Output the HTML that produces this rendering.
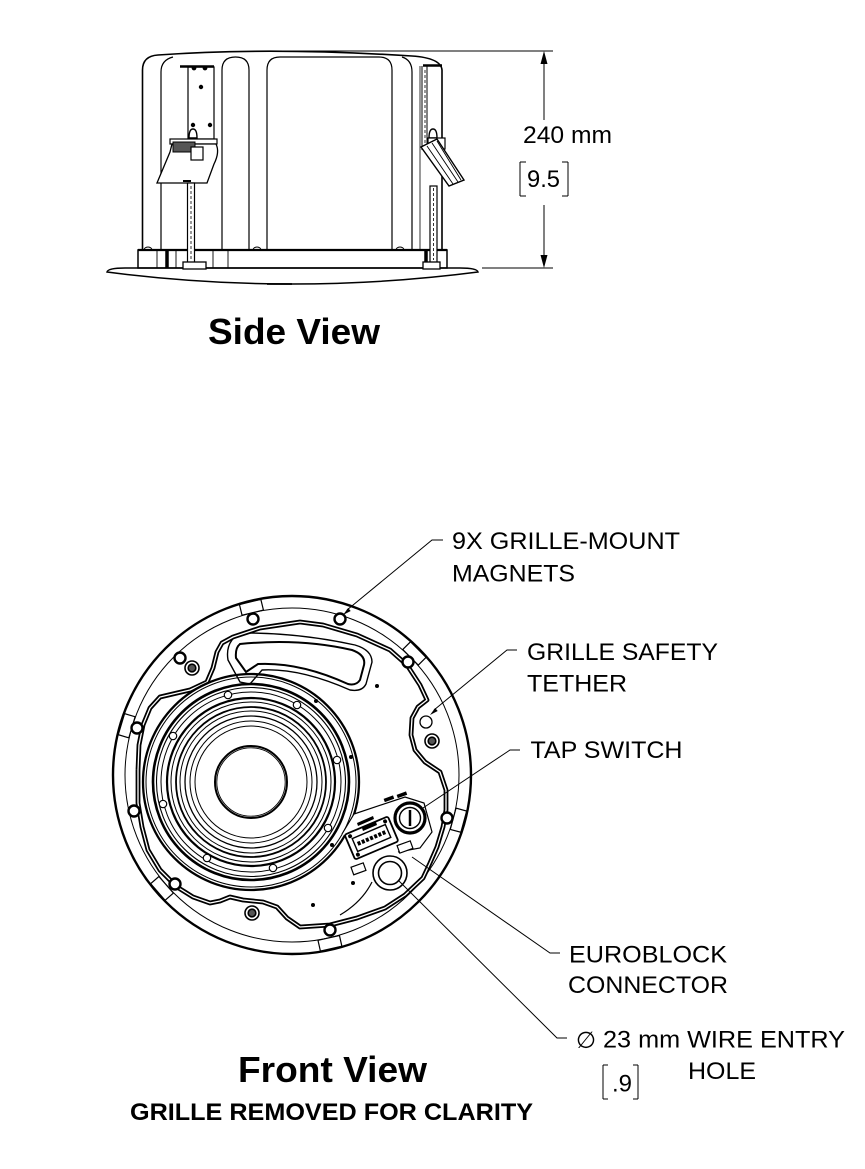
<!DOCTYPE html>
<html>
<head>
<meta charset="utf-8">
<style>
  html,body{margin:0;padding:0;background:#fff;}
  svg{display:block;}
  text{font-family:"Liberation Sans",Arial,sans-serif;fill:#000;}
  .lbl{font-size:24.5px;}
  .ttl{font-size:36.5px;font-weight:bold;}
</style>
</head>
<body>
<svg width="865" height="1169" viewBox="0 0 865 1169" xmlns="http://www.w3.org/2000/svg">
<rect x="0" y="0" width="865" height="1169" fill="#fff"/>

<!-- ================= SIDE VIEW ================= -->
<g fill="none" stroke="#000" stroke-width="1.2">
  <path d="M255,51 H553" stroke-width="1"/>
  <path d="M482,268 H553" stroke-width="1"/>
  <path d="M142.5,250 V70 Q142.5,56 158,55 Q270,47 412,56 Q441,58 442,70 V250" stroke-width="1.6"/>
  <path d="M161,250 V72 Q161,60 173,57"/>
  <path d="M222,250 V70 Q222,57 235.5,57 Q249,57 249,70 V250"/>
  <path d="M267,250 V70 Q267,57 280,57 H379 Q392,57 392,70 V250"/>
  <path d="M412,250 V72 Q412,60 402,57"/>
  <path d="M420,250 V66" stroke-width="0.8"/>
  <path d="M138,250 H447" stroke-width="2.2"/>
  <rect x="138" y="250" width="309" height="18" stroke-width="1.5"/>
  <path d="M157,250 V268 M176,250 V268 M213,250 V268 M228,250 V268 M437,250 V268" stroke-width="0.9"/>
  <path d="M167,250 V268" stroke-width="3.5"/>
  <path d="M426,250 V268" stroke-width="3.5"/>
  <path d="M144,250 a4,3 0 0 1 8,0 M253,250 a4,3 0 0 1 8,0 M396,250 a4,3 0 0 1 8,0" stroke-width="1"/>
  <path d="M107,272 Q108,268 125,268 H460 Q477,268 478,272 Q292,296 107,272 Z" stroke-width="1.5"/>
  <path d="M267,284 H292" stroke-width="1.8"/>

  <!-- left bracket -->
  <path d="M180,66.5 H214" stroke-width="2.5"/>
  <rect x="188" y="67" width="26" height="72"/>
  <circle cx="201" cy="87" r="1.6" fill="#000"/>
  <circle cx="193" cy="125" r="1.6" fill="#000"/>
  <circle cx="210" cy="125" r="1.6" fill="#000"/>
  <circle cx="194" cy="68" r="1.8" fill="#000"/>
  <circle cx="205" cy="68" r="1.8" fill="#000"/>
  <path d="M189,138 Q189,129 193,129 Q197,129 197,138 Z" fill="#fff" stroke-width="1.4"/>
  <rect x="170" y="139" width="47" height="5" fill="#fff"/>
  <path d="M172,144 H216 Q220,152 214,164 L207,183 H157 L170,152 Z" fill="#fff" stroke-width="1.3"/>
  <rect x="173" y="142" width="22" height="10" fill="#555" stroke-width="1"/>
  <rect x="191" y="147" width="12" height="13" fill="#fff"/>
  <path d="M183,181 H191" stroke-width="2"/>
  <rect x="187.5" y="183" width="7" height="80" fill="#fff"/>
  <path d="M191,186 V260" stroke-width="0.8" stroke-dasharray="3,2"/>
  <rect x="183" y="262" width="23" height="7" fill="#fff" stroke-width="1.3"/>

  <!-- right bracket -->
  <path d="M423,65.5 H442" stroke-width="2.5"/>
  <path d="M422,66 V150 M427,66 V150" stroke-width="1"/>
  <path d="M425,70 V148" stroke-width="0.8" stroke-dasharray="3,2"/>
  <path d="M429,138 Q429,129 433,129 Q437,129 437,138 Z" fill="#fff" stroke-width="1.4"/>
  <rect x="428" y="138" width="17" height="11" fill="#fff"/>
  <path d="M421,147 L437,139 L464,180 L449,186 Z" fill="#fff" stroke-width="1.4"/>
  <path d="M427,146 L453,184 M432,143 L458,182 M437,141 L461,180" stroke-width="0.9"/>
  <rect x="430" y="186" width="7" height="77" fill="#fff"/>
  <path d="M433.5,188 V260" stroke-width="0.8" stroke-dasharray="3,2"/>
  <rect x="423" y="262" width="17" height="7" fill="#fff" stroke-width="1.3"/>

  <!-- dimension -->
  <path d="M544,62 V120 M544,205 V257" stroke-width="1"/>
  <path d="M520,162 H526 M520,162 V196 M520,196 H526" stroke-width="1"/>
  <path d="M568,162 H562 M568,162 V196 M568,196 H562" stroke-width="1"/>
</g>
<polygon points="544,51 540.5,64 547.5,64" fill="#000"/>
<polygon points="544,268 540.5,255 547.5,255" fill="#000"/>

<text class="lbl" x="523" y="143" textLength="89" lengthAdjust="spacingAndGlyphs">240 mm</text>
<text class="lbl" x="527" y="187" textLength="33" lengthAdjust="spacingAndGlyphs">9.5</text>
<text class="ttl" x="208" y="344" textLength="172" lengthAdjust="spacingAndGlyphs">Side View</text>

<!-- ================= FRONT VIEW ================= -->
<g fill="none" stroke="#000">
  <circle cx="292" cy="775" r="167" stroke-width="1"/>
  <g transform="translate(292,775)" stroke-width="1.2" fill="#fff">
    <rect x="167" y="-11" width="11" height="22" transform="rotate(-103.6)"/>
    <rect x="167" y="-11" width="11" height="22" transform="rotate(-44.8)"/>
    <rect x="167" y="-11" width="11" height="22" transform="rotate(-163.4)"/>
    <rect x="167" y="-11" width="11" height="22" transform="rotate(15.2)"/>
    <rect x="167" y="-11" width="11" height="22" transform="rotate(138.9)"/>
    <rect x="167" y="-11" width="11" height="22" transform="rotate(77.3)"/>
  </g>
  <circle cx="292" cy="775" r="179" stroke-width="2.4"/>

  <!-- handle slot -->
  <path d="M232,640 Q236,633 246,633 Q300,633 355,645 Q372,650 372,662 L366,684 Q362,692 350,690 Q300,668 262,670 L250,684 L240,682 L228,660 Q226,648 232,640 Z" stroke-width="1.4"/>
  <path d="M240,644 Q300,638 352,650 Q366,655 364,665 L360,680 Q356,686 348,684 Q300,662 258,664 L246,672 L236,658 Q235,648 240,644 Z" stroke-width="2"/>

  <!-- wire loop (double line) -->
  <polyline points="138,770 139,745 143,725 150,708 160,697 177,693 190,690 207,682 213,668 217,652 222,643 233,637 260,628 300,622 323,625 357,635 390,650 407,665 420,685 427,700 418,707 412,718 411,735 415,750 425,762 440,772 446,790 446,810 443,827 437,847 430,863 423,878 405,895 385,908 357,918 330,925 300,927 287,918 277,907 263,902 243,900 230,897 220,901 210,903 193,897 177,887 160,870 148,850 142,827 138,803 138,770" stroke-width="4.8" stroke-linejoin="round"/>
  <polyline points="138,770 139,745 143,725 150,708 160,697 177,693 190,690 207,682 213,668 217,652 222,643 233,637 260,628 300,622 323,625 357,635 390,650 407,665 420,685 427,700 418,707 412,718 411,735 415,750 425,762 440,772 446,790 446,810 443,827 437,847 430,863 423,878 405,895 385,908 357,918 330,925 300,927 287,918 277,907 263,902 243,900 230,897 220,901 210,903 193,897 177,887 160,870 148,850 142,827 138,803 138,770" stroke="#fff" stroke-width="1.3" stroke-linejoin="round"/>

  <!-- speaker -->
  <g transform="translate(251,782)">
    <circle r="108" stroke-width="2.3"/>
    <circle r="105" stroke-width="1"/>
    <circle r="98" stroke-width="2.6"/>
    <circle r="94.5" stroke-width="1.1"/>
    <circle r="90" stroke-width="1"/>
    <circle r="84" stroke-width="2.2"/>
    <circle r="80" stroke-width="1"/>
    <circle r="75" stroke-width="1.8"/>
    <circle r="71" stroke-width="1"/>
    <circle r="66" stroke-width="1.3"/>
    <circle r="61" stroke-width="1"/>
    <circle r="56" stroke-width="1"/>
    <circle r="36" stroke-width="2"/>
    <circle r="34.2" stroke-width="0.9"/>
  </g>
  <g fill="#fff" stroke-width="1.2">
    <circle cx="228" cy="695" r="3.7"/>
    <circle cx="297" cy="705" r="3.7"/>
    <circle cx="173" cy="736" r="3.7"/>
    <circle cx="337" cy="760" r="3.7"/>
    <circle cx="163" cy="804" r="3.7"/>
    <circle cx="328" cy="828" r="3.7"/>
    <circle cx="207" cy="858" r="3.7"/>
    <circle cx="273" cy="868" r="3.7"/>
  </g>

  <!-- magnets -->
  <g fill="#fff" stroke-width="2.4">
    <circle cx="253" cy="619" r="5.5"/>
    <circle cx="340" cy="619" r="5.5"/>
    <circle cx="408" cy="662" r="5.5"/>
    <circle cx="447" cy="818" r="5.5"/>
    <circle cx="330" cy="930" r="5.5"/>
    <circle cx="175" cy="884" r="5.5"/>
    <circle cx="134" cy="811" r="5.5"/>
    <circle cx="137" cy="728" r="5.5"/>
    <circle cx="180" cy="658" r="5.5"/>
  </g>
  <circle cx="426" cy="722" r="6" fill="#fff" stroke-width="1.3"/>
  <g stroke-width="1.6">
    <circle cx="192" cy="668" r="7" fill="#fff"/>
    <circle cx="192" cy="668" r="3.8" fill="#555"/>
    <circle cx="432" cy="741" r="7" fill="#fff"/>
    <circle cx="432" cy="741" r="3.8" fill="#555"/>
    <circle cx="252" cy="913" r="7" fill="#fff"/>
    <circle cx="252" cy="913" r="3.8" fill="#555"/>
  </g>
  <g fill="#000" stroke="none">
    <circle cx="377" cy="686" r="2"/>
    <circle cx="316" cy="701" r="2"/>
    <circle cx="351" cy="757" r="2"/>
    <circle cx="332" cy="845" r="2"/>
    <circle cx="353" cy="883" r="2"/>
    <circle cx="313" cy="905" r="2"/>
  </g>

  <!-- board / euroblock / tap switch -->
  <path d="M342,834 L354,814 L405,797 L424,803 L432,832 L420,848 L398,852" stroke-width="1.2" fill="#fff"/>
  <g transform="translate(371.5,838) rotate(-23)">
    <rect x="-23.5" y="-13.5" width="47" height="27" rx="2" fill="#fff" stroke-width="1.8"/>
    <rect x="-18" y="-7" width="36" height="14" fill="#fff" stroke-width="1.4"/>
    <path d="M-15,0 H15" stroke-width="4" stroke-dasharray="3,1.5"/>
    <circle cx="-19" cy="-10" r="2" fill="#000" stroke="none"/>
    <circle cx="19" cy="-10" r="2" fill="#000" stroke="none"/>
    <circle cx="-19" cy="10" r="2" fill="#000" stroke="none"/>
  </g>
  <g fill="#000" stroke="none">
    <polygon points="357,823 373,816 374,819 358,826"/>
    <polygon points="362,828 376,822 377,825 363,831"/>
    <rect x="384" y="797" width="10" height="3.5" transform="rotate(-20 389 799)"/>
    <rect x="397" y="793" width="10" height="3.5" transform="rotate(-20 402 795)"/>
  </g>
  <circle cx="410" cy="818" r="15" fill="#fff" stroke-width="3.2"/>
  <circle cx="410" cy="818" r="10.5" stroke-width="1.4"/>
  <path d="M410,810 V826" stroke-width="2.5"/>
  <rect x="352" y="865" width="13" height="8" fill="#fff" stroke-width="1.2" transform="rotate(-20 358 869)"/>
  <rect x="398" y="843" width="14" height="8" fill="#fff" stroke-width="1.2" transform="rotate(-20 405 847)"/>
  <circle cx="390" cy="873" r="17" fill="#fff" stroke-width="1.6"/>
  <circle cx="390" cy="873" r="11.5" stroke-width="1.6"/>
  <path d="M372,882 Q362,902 340,915" stroke-width="1.2"/>

  <!-- leader lines -->
  <g stroke-width="1">
    <path d="M347,610 L432,540 H443"/>
    <path d="M434,710 L507,650 H517"/>
    <path d="M423,808 L510,750 H520"/>
    <path d="M412,857 L550,953 H560"/>
    <path d="M398,880 L557,1038 H567"/>
  </g>
</g>
<polygon points="343,615 350.7,611 348.1,608" fill="#000"/>
<polygon points="430,715 437.7,711 435.1,708" fill="#000"/>

<!-- labels -->
<text class="lbl" x="452" y="549" textLength="228" lengthAdjust="spacingAndGlyphs">9X GRILLE-MOUNT</text>
<text class="lbl" x="452" y="581.5" textLength="123" lengthAdjust="spacingAndGlyphs">MAGNETS</text>
<text class="lbl" x="527" y="660" textLength="191" lengthAdjust="spacingAndGlyphs">GRILLE SAFETY</text>
<text class="lbl" x="527" y="691.5" textLength="100" lengthAdjust="spacingAndGlyphs">TETHER</text>
<text class="lbl" x="530.5" y="758" textLength="152" lengthAdjust="spacingAndGlyphs">TAP SWITCH</text>
<text class="lbl" x="569" y="962.5" textLength="158" lengthAdjust="spacingAndGlyphs">EUROBLOCK</text>
<text class="lbl" x="568" y="993" textLength="160" lengthAdjust="spacingAndGlyphs">CONNECTOR</text>
<text x="576" y="1048" style="font-family:'DejaVu Sans',sans-serif;font-size:23px;" textLength="20" lengthAdjust="spacingAndGlyphs">∅</text>
<text class="lbl" x="603" y="1047.5" textLength="242" lengthAdjust="spacingAndGlyphs">23 mm WIRE ENTRY</text>
<text class="lbl" x="688" y="1079" textLength="68" lengthAdjust="spacingAndGlyphs">HOLE</text>
<text class="lbl" x="612" y="1091.5" textLength="20" lengthAdjust="spacingAndGlyphs">.9</text>
<path d="M603,1065 H608 M603,1065 V1099 M603,1099 H608 M638,1065 H633 M638,1065 V1099 M638,1099 H633" stroke="#000" stroke-width="1" fill="none"/>

<text class="ttl" x="238" y="1082" textLength="189" lengthAdjust="spacingAndGlyphs">Front View</text>
<text x="130" y="1120" style="font-size:24px;font-weight:bold;" textLength="403" lengthAdjust="spacingAndGlyphs">GRILLE REMOVED FOR CLARITY</text>
</svg>
</body>
</html>
